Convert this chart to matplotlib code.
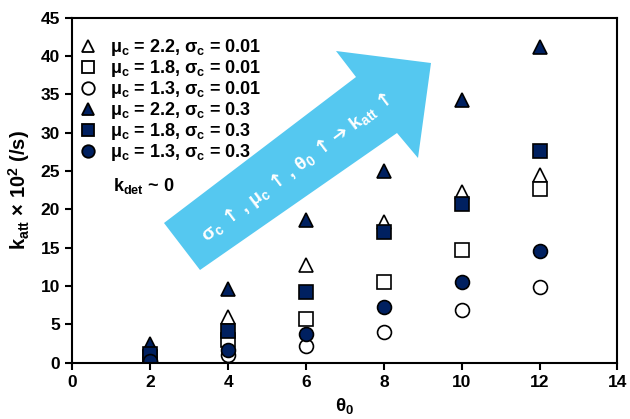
import matplotlib
matplotlib.use("Agg")
import matplotlib.pyplot as plt
from matplotlib.patches import Polygon
import numpy as np

plt.rcParams['font.family'] = ['Liberation Sans', 'DejaVu Sans']
plt.rcParams['font.weight'] = 'bold'
plt.rcParams['mathtext.fontset'] = 'custom'
plt.rcParams['mathtext.rm'] = 'Liberation Sans:bold'
plt.rcParams['mathtext.it'] = 'Liberation Sans:bold'
plt.rcParams['mathtext.bf'] = 'Liberation Sans:bold'
plt.rcParams['mathtext.sf'] = 'DejaVu Sans:bold'
plt.rcParams['mathtext.default'] = 'rm'

theta0 = [2, 4, 6, 8, 10, 12]
labels = [r"$\mu_c$ = 2.2, $\sigma_c$ = 0.01",
          r"$\mu_c$ = 1.8, $\sigma_c$ = 0.01",
          r"$\mu_c$ = 1.3, $\sigma_c$ = 0.01",
          r"$\mu_c$ = 2.2, $\sigma_c$ = 0.3",
          r"$\mu_c$ = 1.8, $\sigma_c$ = 0.3",
          r"$\mu_c$ = 1.3, $\sigma_c$ = 0.3"]
tri_001 = [1.5, 6.0, 12.8, 18.3, 22.3, 24.5]
sq_001 = [0.8, 3.0, 5.7, 10.6, 14.7, 22.6]
circ_001 = [0.1, 1.0, 2.2, 4.0, 6.9, 9.9]
tri_03 = [2.5, 9.6, 18.6, 25.0, 34.2, 41.2]
sq_03 = [1.2, 4.2, 9.3, 17.0, 20.7, 27.6]
circ_03 = [0.3, 1.7, 3.7, 7.3, 10.6, 14.6]

navy = '#002060'
fig = plt.figure(figsize=(6.3, 4.19), dpi=100)
ax = fig.add_axes([0.115, 0.134, 0.865, 0.824])

series = [(tri_001, '^', 'white'), (sq_001, 's', 'white'), (circ_001, 'o', 'white'),
          (tri_03, '^', navy), (sq_03, 's', navy), (circ_03, 'o', navy)]
for (vals, m, fc), lab in zip(series, labels):
    ax.plot(theta0, vals, linestyle='none', marker=m, markersize=10 if m != '^' else 10.5,
            markerfacecolor=fc, markeredgecolor='black', markeredgewidth=1.2, label=lab)

ax.set_xlim(0, 14)
ax.set_ylim(0, 45)
ax.set_xticks(range(0, 15, 2))
ax.set_yticks(range(0, 46, 5))
for s in ax.spines.values():
    s.set_linewidth(1.5)
ax.tick_params(direction='out', length=5, width=1.5, labelsize=12.5, pad=4)
for t in ax.get_xticklabels() + ax.get_yticklabels():
    t.set_fontweight('bold')
ax.set_xlabel(r"$\theta_0$", fontsize=13.5, fontweight='bold', labelpad=4)
ax.set_ylabel(r"k$_{att}$ × 10$^2$ (/s)", fontsize=14.5, fontweight='bold', labelpad=6)

leg = ax.legend(loc='upper left', bbox_to_anchor=(-0.008, 0.975), frameon=False,
                prop={'size': 13, 'weight': 'bold'}, handletextpad=0.7,
                labelspacing=0.0, handlelength=1.0, borderaxespad=0.3, borderpad=0.3)
for h in leg.legend_handles:
    h.set_markersize(9)
    h.set_markeredgewidth(1.3)

fig.text(113/630, 1 - 186/419, r"k$_{det}$ ~ 0", fontsize=13, fontweight='bold', va='center')

# block arrow (figure pixel coordinates)
pts_px = [(164, 223), (356, 77), (336, 51), (431, 63), (418, 158), (397, 133), (200, 270)]
pts = [(x / 630, 1 - y / 419) for x, y in pts_px]
fig.patches.append(Polygon(pts, closed=True, transform=fig.transFigure,
                           facecolor='#55C8F0', edgecolor='none', zorder=5))
arrow_text = (r"$\sigma_c$ $\mathsf{↑}$ , $\mu_c$ $\mathsf{↑}$ , $\theta_0$ $\mathsf{↑}$ "
              r"$\mathsf{➔}$ k$_{att}$ $\mathsf{↑}$")
fig.text(297/630, 1 - 168/419, arrow_text,
         color='white', fontsize=14, fontweight='bold', rotation=37,
         rotation_mode='anchor', ha='center', va='center', zorder=6)

fig.savefig("out.png", dpi=100)
